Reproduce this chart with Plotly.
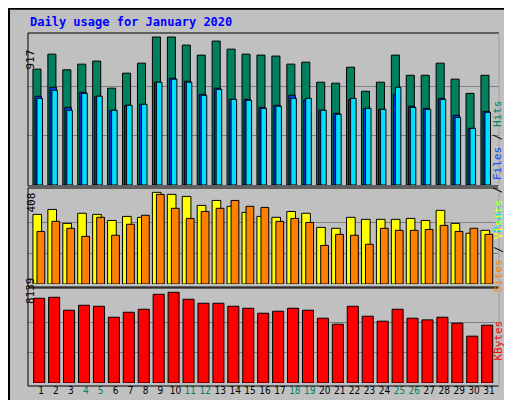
import plotly.graph_objects as go

days = list(range(1, 32))
weekends = [4, 5, 11, 12, 18, 19, 25, 26]

hits = [718, 811, 714, 749, 768, 600, 693, 755, 917, 917, 867, 805, 892, 842, 811, 805,
        799, 749, 761, 637, 631, 730, 581, 637, 805, 680, 680, 755, 656, 568, 680]
files = [550, 606, 481, 575, 550, 463, 494, 500, 637, 662, 643, 562, 600, 531, 531, 481,
         494, 556, 527, 463, 444, 531, 475, 469, 562, 488, 475, 537, 432, 351, 456]
pages = [537, 587, 463, 568, 550, 463, 494, 500, 637, 656, 637, 556, 593, 531, 525, 475,
         488, 537, 537, 463, 438, 537, 475, 469, 606, 481, 469, 531, 419, 351, 450]
visits = [310, 332, 270, 315, 310, 283, 301, 297, 408, 399, 390, 350, 372, 346, 319, 301,
          297, 323, 315, 252, 248, 297, 288, 288, 288, 292, 283, 328, 270, 226, 239]
sites = [234, 279, 248, 212, 297, 217, 266, 306, 399, 337, 292, 323, 337, 372, 346, 341,
         279, 292, 274, 172, 221, 217, 177, 248, 239, 239, 243, 261, 234, 248, 221]
kbytes = [7602, 7691, 6529, 6976, 6887, 5903, 6350, 6618, 7960, 8139, 7513, 7155, 7155, 6887,
          6708, 6261, 6440, 6708, 6529, 5813, 5277, 6887, 5992, 5545, 6618, 5813, 5664, 5903,
          5366, 4203, 5187]

BG = "#C0C0C0"
GRID = "#808080"
line = dict(color="black", width=1)


def bar(y, color, offset, width, ax):
    return go.Bar(x=days, y=y, offset=offset, width=width, marker=dict(color=color, line=line),
                  xaxis="x" + ax, yaxis="y" + ax, showlegend=False, hoverinfo="y")


fig = go.Figure([
    bar(hits, "#00805C", -0.54, 0.54, ""),
    bar(files, "#0040FF", -0.40, 0.43, ""),
    bar(pages, "#00E0FF", -0.27, 0.37, ""),
    bar(visits, "#FFFF00", -0.54, 0.58, "2"),
    bar(sites, "#FF8000", -0.27, 0.52, "2"),
    bar(kbytes, "#FF0000", -0.49, 0.74, "3"),
])

xr = [0.13, 31.67]
xdom = [20 / 512, 491 / 512]
common_x = dict(range=xr, domain=xdom, showgrid=False, zeroline=False, fixedrange=True)
fig.update_layout(
    width=512, height=400, margin=dict(l=0, r=0, t=0, b=0),
    paper_bgcolor=BG, plot_bgcolor=BG, barmode="overlay",
    font=dict(family="DejaVu Sans Mono", size=11, color="black"),
    xaxis=dict(common_x, anchor="y", showticklabels=False),
    xaxis2=dict(common_x, anchor="y2", showticklabels=False),
    xaxis3=dict(common_x, anchor="y3", tickmode="array", tickvals=days, tickangle=0,
                ticktext=[f'<span style="color:#00805C">{d}</span>' if d in weekends else str(d)
                          for d in days],
                ticks="", ticklen=0, tickfont=dict(size=10, family="DejaVu Sans Condensed")),
    yaxis=dict(domain=[1 - 177 / 400, 1 - 25 / 400], range=[0, 942], tickvals=[306, 611],
               showticklabels=False, gridcolor=GRID, zeroline=False),
    yaxis2=dict(domain=[1 - 276 / 400, 1 - 181 / 400], range=[0, 423], tickvals=[136, 272],
                showticklabels=False, gridcolor=GRID, zeroline=False),
    yaxis3=dict(domain=[1 - 375 / 400, 1 - 281 / 400], range=[0, 8435], tickvals=[2713, 5426],
                showticklabels=False, gridcolor=GRID, zeroline=False),
)

# frames: outer bevel and panel borders
shapes = [
    dict(type="rect", xref="paper", yref="paper", x0=0.002, y0=0.002, x1=0.998, y1=0.998,
         line=dict(color="black", width=2)),
    dict(type="line", xref="paper", yref="paper", x0=506 / 512, x1=506 / 512, y0=0.012, y1=0.99,
         line=dict(color="#909090", width=3)),
    dict(type="line", xref="paper", yref="paper", x0=0.01, x1=0.985, y0=0.012, y1=0.012,
         line=dict(color="#909090", width=3)),
]
for top, bottom in [(25, 178), (180, 279), (280, 378)]:
    shapes.append(dict(type="rect", xref="paper", yref="paper",
                       x0=20 / 512, x1=491 / 512, y0=1 - bottom / 400, y1=1 - top / 400,
                       line=dict(color="black", width=1)))
shapes.append(dict(type="line", xref="paper", yref="paper", x0=491 / 512, x1=491 / 512,
                   y0=1 - 378 / 400, y1=1 - 25 / 400, line=dict(color="white", width=1)))
fig.update_layout(shapes=shapes)

ann = [
    dict(x=20 / 512, y=1 - 14 / 400, text="<b>Daily usage for January 2020</b>",
         font=dict(color="#0000FF", size=12), xanchor="left", yanchor="middle"),
    dict(x=14 / 512, y=1 - 40 / 400, text="917", textangle=-90),
    dict(x=14 / 512, y=1 - 195 / 400, text="408", textangle=-90),
    dict(x=14 / 512, y=1 - 298 / 400, text="8139", textangle=-90),
    dict(x=498 / 512, y=1 - 90 / 400, textangle=-90,
         text='<span style="color:#00E0FF">Pages</span> / <span style="color:#0040FF">Files</span>'
              ' / <span style="color:#00805C">Hits</span>'),
    dict(x=498 / 512, y=1 - 238 / 400, textangle=-90,
         text='<span style="color:#FF8000">Sites</span> / <span style="color:#FFFF00">Visits</span>'),
    dict(x=498 / 512, y=1 - 355 / 400, textangle=-90,
         text='<span style="color:#FF0000">KBytes</span>'),
]
for a in ann:
    a.update(xref="paper", yref="paper", showarrow=False)
    a.setdefault("font", dict(size=11))
fig.update_layout(annotations=ann)

fig.write_html("out.html")
